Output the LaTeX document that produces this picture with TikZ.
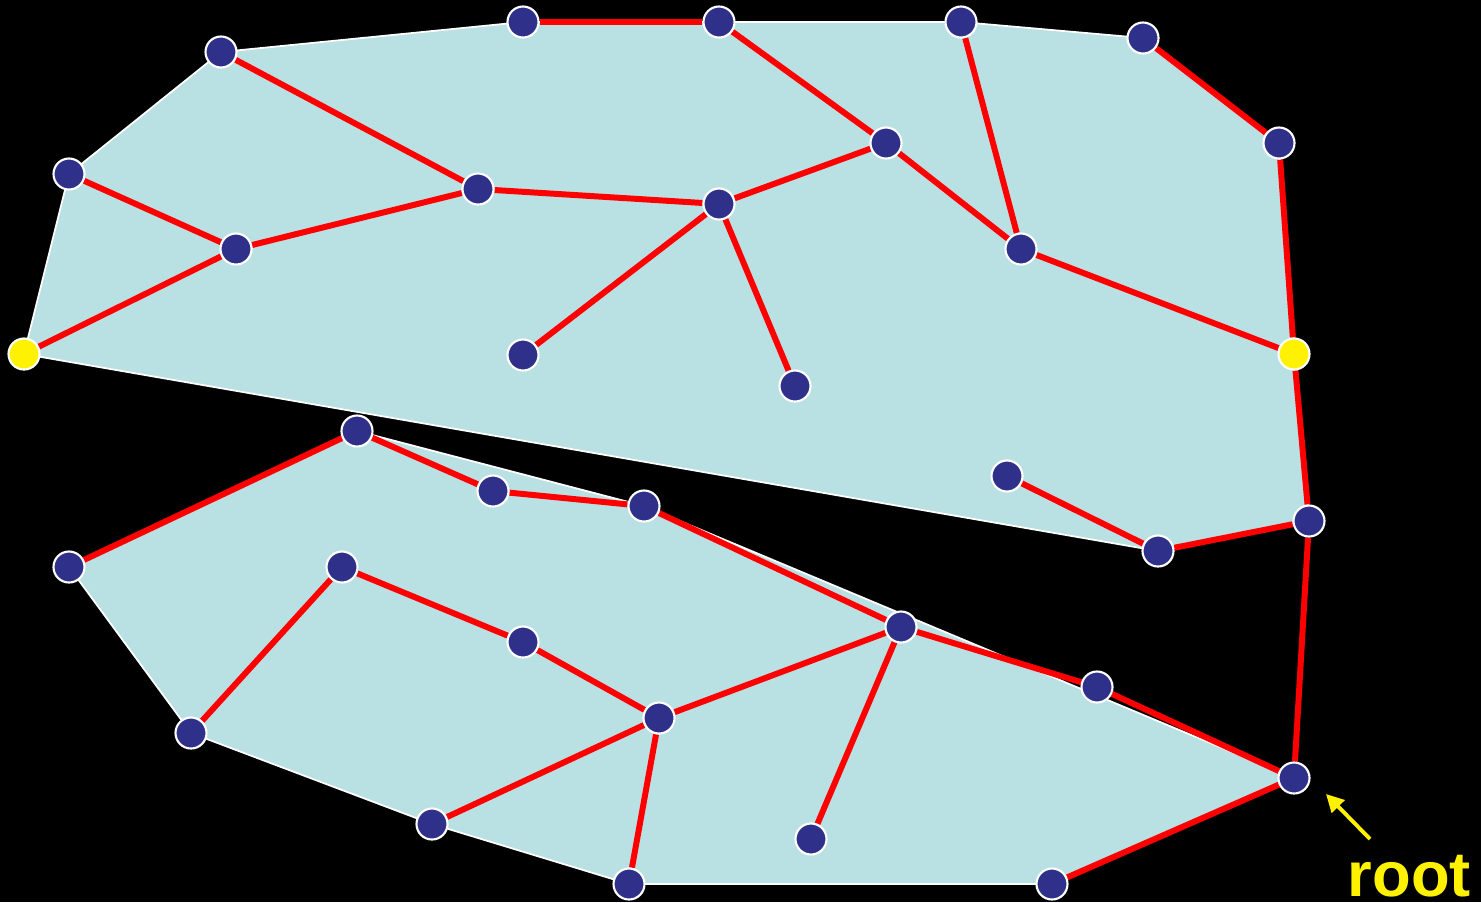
\documentclass[tikz,border=0pt]{standalone}
\usepackage{fontspec}
\setmainfont{Liberation Sans}
\usetikzlibrary{backgrounds,arrows.meta}
\definecolor{hullfill}{RGB}{185,224,227}
\definecolor{vtxblue}{RGB}{46,48,137}

\begin{document}
\begin{tikzpicture}[x=0.01cm,y=-0.01cm,
  vtx/.style={circle,draw=white,line width=0.6pt,fill=vtxblue,inner sep=0pt,minimum size=0.31cm},
  leaf/.style={vtx,fill=yellow},
  hull/.style={fill=hullfill,draw=white,line width=0.5pt,line join=round},
  treeedge/.style={red,line width=1.7pt},
  pointer/.style={yellow,line width=1.1pt,-{Triangle[length=5pt,width=5pt]}}]
\useasboundingbox (0,0) rectangle (1481,902);
\foreach \n/\x/\y in {u1/221/52,u2/523/22,u3/719/22,u4/961/22,u5/1143/38,u6/1279/143,
  u7/69/174,u8/478/189,u9/886/143,u10/719/204,u11/236/249,u12/1021/249,
  u14/523/355,u15/795/386,u17/1007/476,u18/1158/551,u19/1309/521,
  l1/357/431,l2/493/491,l3/644/506,l4/69/567,l5/342/567,l6/523/642,l7/901/627,
  l8/1097/687,l9/659/718,l10/191/733,l11/1294/778,l12/432/824,l13/811/839,
  l14/629/884,l15/1052/884}
  \node[vtx] (\n) at (\x,\y) {};
\node[leaf] (u13) at (24,354) {};
\node[leaf] (u16) at (1294,354) {};
\begin{pgfonlayer}{background}
\fill[black] (0,0) rectangle (1481,902);
\draw[hull] (u13.center) -- (u7.center) -- (u1.center) -- (u2.center) -- (u3.center)
  -- (u4.center) -- (u5.center) -- (u6.center) -- (u19.center) -- (u18.center) -- cycle;
\draw[hull] (l1.center) -- (l3.center) -- (l11.center) -- (l15.center) -- (l14.center)
  -- (l12.center) -- (l10.center) -- (l4.center) -- cycle;
\foreach \a/\b in {u2/u3,u3/u9,u1/u8,u7/u11,u11/u8,u8/u10,u10/u9,u9/u12,u4/u12,
  u12/u16,u5/u6,u6/u16,u13/u11,u10/u14,u10/u15,u16/u19,u17/u18,u18/u19,u19/l11,
  l4/l1,l1/l2,l2/l3,l3/l7,l7/l8,l8/l11,l5/l10,l5/l6,l6/l9,l9/l7,l9/l12,l9/l14,
  l7/l13,l15/l11}
  \draw[treeedge] (\a) -- (\b);
\end{pgfonlayer}
\node[anchor=base west,inner sep=0pt,text=yellow,font=\fontsize{18}{20}\selectfont\bfseries]
  (rootlabel) at (1347,896) {root};
\coordinate (pointertail) at (1370,839);
\coordinate (pointertip) at (1326,794);
\draw[pointer] (pointertail) -- (pointertip);
\end{tikzpicture}
\end{document}
